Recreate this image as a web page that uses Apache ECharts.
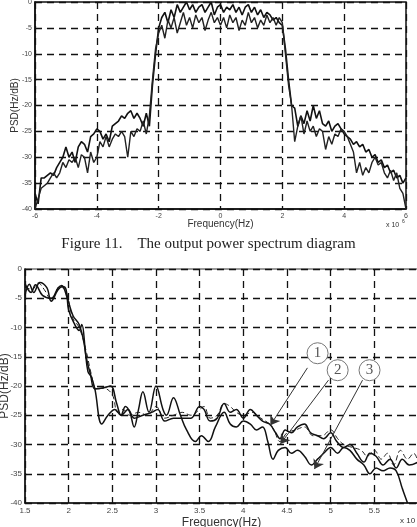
<!DOCTYPE html>
<html>
<head>
<meta charset="utf-8">
<script src="https://cdn.jsdelivr.net/npm/echarts@6/dist/echarts.min.js"></script>
<style>
  html, body { margin: 0; padding: 0; background: #fff; }
  #chart { width: 417px; height: 527px; }
</style>
</head>
<body>
<div id="chart"></div>
<script>
// top figure: frequency (x 10^6 Hz) and two PSD traces (dB)
var topFreq = [-6.0,-5.9,-5.8,-5.7,-5.6,-5.5,-5.4,-5.3,-5.2,-5.1,-5.0,-4.9,-4.8,-4.7,-4.6,-4.5,-4.4,-4.3,-4.2,-4.1,
    -4.0,-3.9,-3.8,-3.7,-3.6,-3.5,-3.4,-3.3,-3.2,-3.1,-3.0,-2.9,-2.8,-2.7,-2.6,-2.5,-2.4,-2.3,-2.2,-2.1,
    -2.0,-1.9,-1.8,-1.7,-1.6,-1.5,-1.4,-1.3,-1.2,-1.1,-1.0,-0.9,-0.8,-0.7,-0.6,-0.5,-0.4,-0.3,-0.2,-0.1,
    0.0,0.1,0.2,0.3,0.4,0.5,0.6,0.7,0.8,0.9,1.0,1.1,1.2,1.3,1.4,1.5,1.6,1.7,1.8,1.9,
    2.0,2.1,2.2,2.3,2.4,2.5,2.6,2.7,2.8,2.9,3.0,3.1,3.2,3.3,3.4,3.5,3.6,3.7,3.8,3.9,
    4.0,4.1,4.2,4.3,4.4,4.5,4.6,4.7,4.8,4.9,5.0,5.1,5.2,5.3,5.4,5.5,5.6,5.7,5.8,5.9,6.0];
var topPsdA = [-37,-39,-34,-34,-33.5,-33,-33.5,-32,-31,-30,-28,-30,-29,-31,-28,-27,-27.5,-29,-26,-25.5,
    -24.5,-25,-26.5,-25.5,-27,-24,-23.5,-23,-22,-22.5,-21.5,-21,-22.5,-21.5,-22.5,-24,-21.5,-24,-16,-10,
    -5,-3,-2,-4,-1.5,-3,-0.5,-2,-1,0,-1.5,-0.5,-2,-1,-0.5,-2,-1,0,-2.5,-1,
    -0.5,-2,-1,-1.5,-0.5,-2,-1,-2.5,-1,-0.5,-2,-1,-2.5,-1.5,-3,-2,-2.5,-3.5,-3,-4,
    -4.5,-9,-15,-20,-20.5,-24,-22,-23.5,-21,-23,-20,-22.5,-21,-23.5,-24,-23,-25,-24,-23.5,-24.5,
    -25.5,-26,-26.5,-27.5,-27,-28,-27.5,-29,-28.5,-30,-29.5,-31,-30.5,-32,-31.5,-33,-32.5,-34,-33.5,-35,-34];
var topPsdB = [-40,-38,-36,-35.5,-35,-34,-33,-34,-33,-31,-32,-30.5,-31,-30,-32,-29.5,-30,-33,-29,-31,
    -30,-27,-28,-26,-28,-26.5,-25.5,-26,-25,-26,-30,-25,-26,-24.5,-25,-23,-25.5,-22,-15,-9,
    -6,-4.5,-7,-3.5,-5,-3,-6,-4,-2,-4.5,-3,-5,-2.5,-4,-3,-5.5,-3.5,-2,-4,-3,
    -4.5,-3,-5,-2.5,-4,-3,-5.5,-3.5,-4.5,-2,-4,-3,-5,-3.5,-4.5,-2.5,-4,-3,-4.5,-3,
    -4,-10,-16,-20,-27,-24,-22,-25.5,-23,-25,-24,-26,-24.5,-25,-28.5,-26,-27.5,-25.5,-26,-24.5,
    -25,-26,-27.5,-29,-33,-31,-33.5,-32,-33,-31,-30,-31.5,-31,-33,-34,-32.5,-34.5,-33,-36,-37,-40];

// bottom figure: three traces, each with its own frequency samples
var botFreq1 = [1.50,1.57,1.62,1.70,1.80,1.88,1.92,1.98,2.05,2.12,2.18,2.22,2.26,2.30,2.38,2.45,2.53,2.60,2.68,2.75,
    2.85,2.95,3.02,3.10,3.20,3.30,3.40,3.50,3.55,3.62,3.70,3.78,3.85,3.92,4.00,4.08,4.15,4.22,4.30,4.37,
    4.42,4.48,4.55,4.62,4.70,4.77,4.85,4.92,5.00,5.07,5.15,5.22,5.30,5.38,5.45,5.52,5.60,5.68,5.75,5.82,5.90,6.00];
var botPsd1 = [-2.5,-4.0,-2.7,-4.5,-5.0,-3.2,-2.8,-4.8,-8.0,-9.5,-13,-17.5,-18.5,-20.5,-26.5,-25.0,-24.0,-25.0,-24.0,-25.5,
    -25.0,-24.5,-24.0,-26.0,-25.5,-25.5,-25.5,-23.5,-24.0,-26.0,-25.5,-23.0,-24.5,-24.0,-25.5,-24.0,-25.0,-26.0,-26.5,-28.0,
    -29.0,-27.5,-28.0,-27.0,-26.5,-28.0,-28.5,-29.0,-28.0,-29.5,-30.5,-30.0,-31.5,-33.0,-31.5,-32.0,-33.5,-32.5,-34.0,-32.5,-33.5,-33.0];
var botFreq2 = [1.50,1.55,1.60,1.67,1.75,1.80,1.88,1.93,1.97,2.00,2.07,2.12,2.15,2.20,2.25,2.30,2.40,2.48,2.55,2.60,
    2.65,2.70,2.75,2.80,2.85,2.92,3.00,3.08,3.12,3.20,3.28,3.35,3.45,3.52,3.60,3.68,3.78,3.85,3.92,4.00,
    4.08,4.15,4.22,4.28,4.34,4.40,4.48,4.55,4.62,4.70,4.78,4.85,4.92,5.00,5.08,5.15,5.22,5.30,5.38,5.45,
    5.52,5.60,5.68,5.75,5.82,5.88];
var botPsd2 = [-4.5,-2.6,-4.0,-2.3,-3.2,-5.5,-3.5,-3.0,-3.5,-7.0,-9.5,-10.5,-9.5,-15.0,-18.0,-20.5,-20.3,-20.0,-23.0,-25.0,
    -23.5,-24.5,-27.0,-24.0,-21.0,-24.5,-20.0,-24.0,-25.0,-22.0,-25.0,-27.5,-29.5,-28.5,-29.5,-27.0,-24.5,-26.5,-27.0,-26.0,
    -26.5,-27.5,-27.0,-29.5,-32.5,-31.0,-30.5,-31.5,-31.0,-32.0,-33.5,-32.5,-31.5,-30.5,-31.5,-30.5,-31.0,-32.5,-33.5,-35.0,
    -34.0,-34.5,-34.0,-34.5,-37.5,-40.0];
var botFreq3 = [1.50,1.58,1.65,1.72,1.80,1.90,1.97,2.05,2.12,2.20,2.26,2.32,2.40,2.50,2.56,2.62,2.70,2.80,2.90,3.00,
    3.10,3.20,3.30,3.40,3.50,3.55,3.62,3.70,3.78,3.85,3.92,4.00,4.10,4.20,4.30,4.35,4.42,4.50,4.60,4.70,
    4.80,4.90,5.00,5.08,5.15,5.25,5.35,5.42,5.50,5.58,5.65,5.72,5.80,5.88,5.95,6.00];
var botPsd3 = [-3.0,-3.5,-2.4,-3.5,-5.2,-3.0,-4.0,-8.5,-10.0,-14.0,-18.0,-20.5,-20.4,-21.5,-24.5,-24.0,-25.0,-24.5,-25.0,-23.5,
    -25.5,-25.0,-24.5,-25.0,-24.0,-23.5,-25.5,-25.0,-23.0,-23.5,-24.5,-25.0,-24.5,-25.5,-26.5,-27.5,-29.5,-28.0,-27.5,-27.0,
    -28.5,-28.5,-27.5,-29.0,-30.0,-30.5,-31.0,-32.0,-31.0,-32.5,-31.5,-33.5,-31.0,-32.5,-31.5,-33.0];

// annotation markers on the bottom figure: label, label position, arrow start, arrow end
var markerNames = ['1', '2', '3'];
var markerAt = [[4.85, -14.4], [5.08, -17.3], [5.445, -17.3]];
var arrowFrom = [[4.734, -16.9], [4.975, -19.0], [5.365, -19.0]];
var arrowTo = [[4.31, -26.7], [4.424, -29.9], [4.814, -34.2]];

function pairs(xs, ys) {
    return xs.map(function (x, i) { return [x, ys[i]]; });
}

var sans = 'Liberation Sans';
var dash = { color: '#111', width: 1.3, type: [7, 5] };
var small = { fontFamily: sans, color: '#333', fontWeight: 'normal' };

var chartDom = document.getElementById('chart');
var myChart = echarts.init(chartDom);
var option;

option = {
    animation: false,
    backgroundColor: '#fff',
    title: [
        {
            text: 'Figure 11.    The output power spectrum diagram',
            left: 'center',
            top: 232,
            textStyle: { fontFamily: 'Liberation Serif', fontWeight: 'normal', fontSize: 15, color: '#222' }
        },
        { text: 'x 10', left: 386, top: 222, padding: 0, textStyle: Object.assign({ fontSize: 7 }, small) },
        { text: '6', left: 402, top: 219, padding: 0, textStyle: Object.assign({ fontSize: 5 }, small) },
        { text: 'x 10', left: 400, top: 517, padding: 0, textStyle: Object.assign({ fontSize: 8 }, small) },
        { text: '6', left: 418, top: 514, padding: 0, textStyle: Object.assign({ fontSize: 6 }, small) }
    ],
    grid: [
        { left: 35, right: 11, top: 2, height: 207, outerBoundsMode: 'none', containLabel: false, show: true, borderColor: '#111', borderWidth: 1.5 },
        { left: 25, right: -1, top: 269, height: 234, outerBoundsMode: 'none', containLabel: false, show: true, borderColor: '#333', borderWidth: 1.2 }
    ],
    xAxis: [
        {
            type: 'value', gridIndex: 0, min: -6, max: 6, interval: 2,
            name: 'Frequency(Hz)', nameLocation: 'middle', nameGap: 10, nameMoveOverlap: false,
            nameTextStyle: { fontFamily: sans, fontSize: 10, color: '#333' },
            axisLine: { onZero: false, lineStyle: { color: '#111', width: 1.5 } },
            axisTick: { show: false },
            axisLabel: { fontFamily: sans, fontSize: 7, color: '#444', margin: 4 },
            splitLine: { lineStyle: dash }
        },
        {
            type: 'value', gridIndex: 1, min: 1.5, max: 6, interval: 0.5,
            name: 'Frequency(Hz)', nameLocation: 'middle', nameGap: 14, nameMoveOverlap: false,
            nameTextStyle: { fontFamily: sans, fontSize: 12, color: '#333' },
            axisLine: { onZero: false, lineStyle: { color: '#111', width: 1.5 } },
            axisTick: { show: false },
            axisLabel: { fontFamily: sans, fontSize: 8, color: '#444', margin: 4, showMaxLabel: false },
            splitLine: { lineStyle: dash }
        }
    ],
    yAxis: [
        {
            type: 'value', gridIndex: 0, min: -40, max: 0, interval: 5,
            name: 'PSD(Hz/dB)', nameLocation: 'middle', nameGap: 15, nameMoveOverlap: false,
            nameTextStyle: { fontFamily: sans, fontSize: 10, color: '#333' },
            axisLine: { onZero: false, lineStyle: { color: '#111', width: 1.5 } },
            axisTick: { show: false },
            axisLabel: { fontFamily: sans, fontSize: 7, color: '#444', margin: 3 },
            splitLine: { lineStyle: dash }
        },
        {
            type: 'value', gridIndex: 1, min: -40, max: 0, interval: 5,
            name: 'PSD(Hz/dB)', nameLocation: 'middle', nameGap: 14, nameMoveOverlap: false,
            nameTextStyle: { fontFamily: sans, fontSize: 12, color: '#333' },
            axisLine: { onZero: false, lineStyle: { color: '#111', width: 1.5 } },
            axisTick: { show: false },
            axisLabel: { fontFamily: sans, fontSize: 8, color: '#444', margin: 3 },
            splitLine: { lineStyle: dash }
        }
    ],
    series: [
        {
            type: 'line', xAxisIndex: 0, yAxisIndex: 0, data: pairs(topFreq, topPsdA),
            showSymbol: false, lineStyle: { color: '#111', width: 1.6 }
        },
        {
            type: 'line', xAxisIndex: 0, yAxisIndex: 0, data: pairs(topFreq, topPsdB),
            showSymbol: false, lineStyle: { color: '#222', width: 1.4 }
        },
        {
            type: 'line', xAxisIndex: 1, yAxisIndex: 1, data: pairs(botFreq3, botPsd3),
            showSymbol: false, smooth: 0.4, lineStyle: { color: '#222', width: 1, type: [5, 3] }
        },
        {
            type: 'line', xAxisIndex: 1, yAxisIndex: 1, data: pairs(botFreq1, botPsd1),
            showSymbol: false, smooth: 0.4, lineStyle: { color: '#111', width: 1.5 }
        },
        {
            type: 'line', xAxisIndex: 1, yAxisIndex: 1, data: pairs(botFreq2, botPsd2),
            showSymbol: false, smooth: 0.4, lineStyle: { color: '#111', width: 1.5 },
            markLine: {
                silent: true,
                symbol: ['none', 'arrow'],
                symbolSize: 9,
                lineStyle: { color: '#333', width: 1, type: 'solid' },
                label: { show: false },
                data: arrowFrom.map(function (p, i) {
                    return [{ coord: p }, { coord: arrowTo[i] }];
                })
            },
            markPoint: {
                silent: true,
                symbol: 'circle',
                symbolSize: 21,
                itemStyle: { color: '#fff', borderColor: '#777', borderWidth: 1 },
                label: { show: true, position: 'inside', fontFamily: 'Liberation Serif', fontSize: 15, color: '#555' },
                data: markerAt.map(function (p, i) {
                    return { coord: p, value: markerNames[i] };
                })
            }
        }
    ]
};

option && myChart.setOption(option);
</script>
</body>
</html>
